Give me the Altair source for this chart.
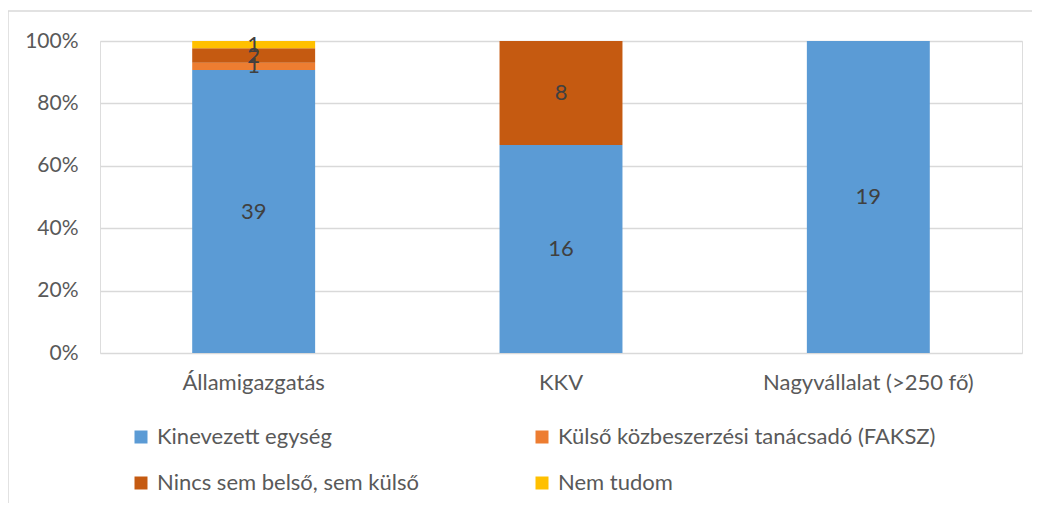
import altair as alt
import pandas as pd

categories = ["Államigazgatás", "KKV", "Nagyvállalat (>250 fő)"]
series = ["Kinevezett egység", "Külső közbeszerzési tanácsadó (FAKSZ)",
          "Nincs sem belső, sem külső", "Nem tudom"]
colors = ["#5B9BD5", "#ED7D31", "#C55A11", "#FFC000"]
values = {
    "Kinevezett egység": [39, 16, 19],
    "Külső közbeszerzési tanácsadó (FAKSZ)": [1, 0, 0],
    "Nincs sem belső, sem külső": [2, 8, 0],
    "Nem tudom": [1, 0, 0],
}

rows = []
for si, s in enumerate(series):
    for ci, c in enumerate(categories):
        rows.append({"cat": c, "series": s, "order": si, "value": values[s][ci]})
df = pd.DataFrame(rows)

FONT = "Lato"
FS = 21
FSL = 22
GRAY = "#595959"

base = alt.Chart(df).transform_stack(
    stack="value", groupby=["cat"], as_=["y0", "y1"], offset="normalize",
    sort=[alt.SortField("order", "ascending")]
).transform_calculate(mid="(datum.y0 + datum.y1) / 2")

xenc = alt.X("cat:N", sort=categories, title=None,
             scale=alt.Scale(paddingInner=0.6, paddingOuter=0.3),
             axis=alt.Axis(labelAngle=0, domain=False, ticks=False, labelPadding=19,
                           labelLimit=400,
                           labelFont=FONT, labelFontSize=FSL, labelColor=GRAY))

bars = base.mark_bar().encode(
    x=xenc,
    y=alt.Y("y0:Q", title=None, scale=alt.Scale(domain=[0, 1], nice=False),
            axis=alt.Axis(format="%", values=[0, 0.2, 0.4, 0.6, 0.8, 1.0],
                          domain=False, ticks=False, labelPadding=22,
                          grid=True, gridColor="#D9D9D9", gridWidth=1.5,
                          labelFont=FONT, labelFontSize=FS, labelColor=GRAY)),
    y2="y1:Q",
    color=alt.Color("series:N", sort=series,
                    scale=alt.Scale(domain=series, range=colors),
                    legend=alt.Legend(title=None, orient="none", legendX=30, legendY=385,
                                      direction="horizontal",
                                      columns=2, columnPadding=112, rowPadding=24,
                                      symbolType="square", symbolSize=169,
                                      symbolStrokeWidth=0, labelOffset=5,
                                      labelFont=FONT, labelFontSize=FSL,
                                      labelColor=GRAY, labelLimit=500)),
    order=alt.Order("order:Q"),
)

labels = base.transform_filter("datum.value > 0").mark_text(
    font=FONT, fontSize=FSL, color="#404040", baseline="middle"
).encode(
    x=alt.X("cat:N", sort=categories),
    y=alt.Y("mid:Q"),
    text=alt.Text("value:Q"),
)

border = alt.Chart(alt.Data(values=[{}])).mark_rect(
    fill="transparent", stroke="#D9D9D9", strokeWidth=1.5
).encode(
    x=alt.value(-92), x2=alt.value(1100),
    y=alt.value(-30), y2=alt.value(600),
)

chart = alt.layer(bars, labels, border).properties(
    width=922, height=312,
    autosize=alt.AutoSizeParams(type="none"),
    padding={"left": 92, "top": 33, "right": 10, "bottom": 150},
).configure_view(stroke=None).configure(background="white")

chart.save("out.html", embed_options={"renderer": "svg", "actions": False})
